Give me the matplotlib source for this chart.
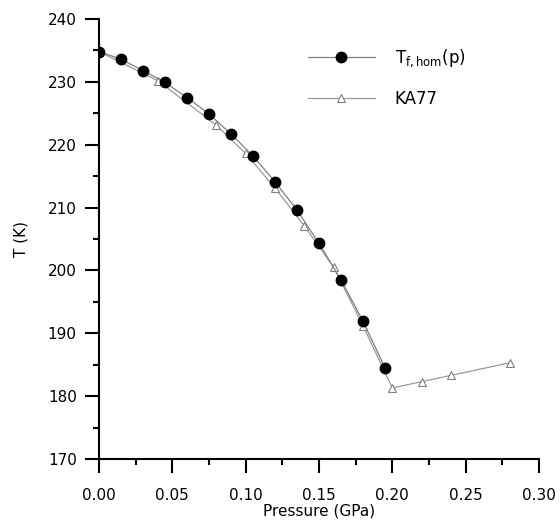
import matplotlib
matplotlib.use("Agg")
import matplotlib.pyplot as plt
from matplotlib.ticker import MultipleLocator, FormatStrFormatter

# Data
p_hom = [0.000, 0.015, 0.030, 0.045, 0.060, 0.075, 0.090, 0.105, 0.120, 0.135, 0.150, 0.165, 0.180, 0.195]
T_hom = [234.8, 233.6, 231.8, 229.9, 227.5, 224.9, 221.7, 218.2, 214.1, 209.6, 204.3, 198.5, 191.9, 184.5]

p_ka77 = [0.00, 0.04, 0.08, 0.10, 0.12, 0.14, 0.16, 0.18, 0.20, 0.22, 0.24, 0.28]
T_ka77 = [234.8, 230.2, 223.1, 218.6, 213.1, 207.1, 200.5, 191.2, 181.3, 182.3, 183.3, 185.3]

plt.rcParams['font.family'] = ['DejaVu Sans']

fig = plt.figure(figsize=(5.6, 5.23), dpi=100)
ax = fig.add_axes([0.1768, 0.1224, 0.7857, 0.8413])

ax.plot(p_ka77, T_ka77, color='#9a9a9a', lw=0.9, marker='^', ms=5.5,
        mfc='white', mec='#808080', mew=0.8, label='KA77', zorder=2)
ax.plot(p_hom, T_hom, color='#808080', lw=0.9, marker='o', ms=7.5,
        mfc='black', mec='black', label=r'T$_{\mathrm{f,hom}}$(p)', zorder=3)

ax.set_xlim(0, 0.30)
ax.set_ylim(170, 240)
ax.xaxis.set_major_locator(MultipleLocator(0.05))
ax.xaxis.set_minor_locator(MultipleLocator(0.025))
ax.yaxis.set_major_locator(MultipleLocator(10))
ax.yaxis.set_minor_locator(MultipleLocator(5))
ax.xaxis.set_major_formatter(FormatStrFormatter('%.2f'))

for s in ['top', 'right']:
    ax.spines[s].set_visible(False)
for s in ['left', 'bottom']:
    ax.spines[s].set_linewidth(1.5)

ax.tick_params(which='major', direction='out', length=10, width=1.5, labelsize=11, pad=6)
ax.tick_params(axis='x', which='major', pad=11)
ax.tick_params(which='minor', direction='out', length=4.5, width=1.5)

ax.set_xlabel('Pressure (GPa)', fontsize=11, labelpad=0)
ax.set_ylabel('T (K)', fontsize=11, labelpad=14)

handles, labels = ax.get_legend_handles_labels()
leg = ax.legend(handles[::-1], labels[::-1], loc='center left', bbox_to_anchor=(0.475, 0.866),
                frameon=False, fontsize=12, borderpad=0, borderaxespad=0,
                handlelength=4.0, handletextpad=1.2, labelspacing=1.25)

fig.savefig('out.png', dpi=100)
